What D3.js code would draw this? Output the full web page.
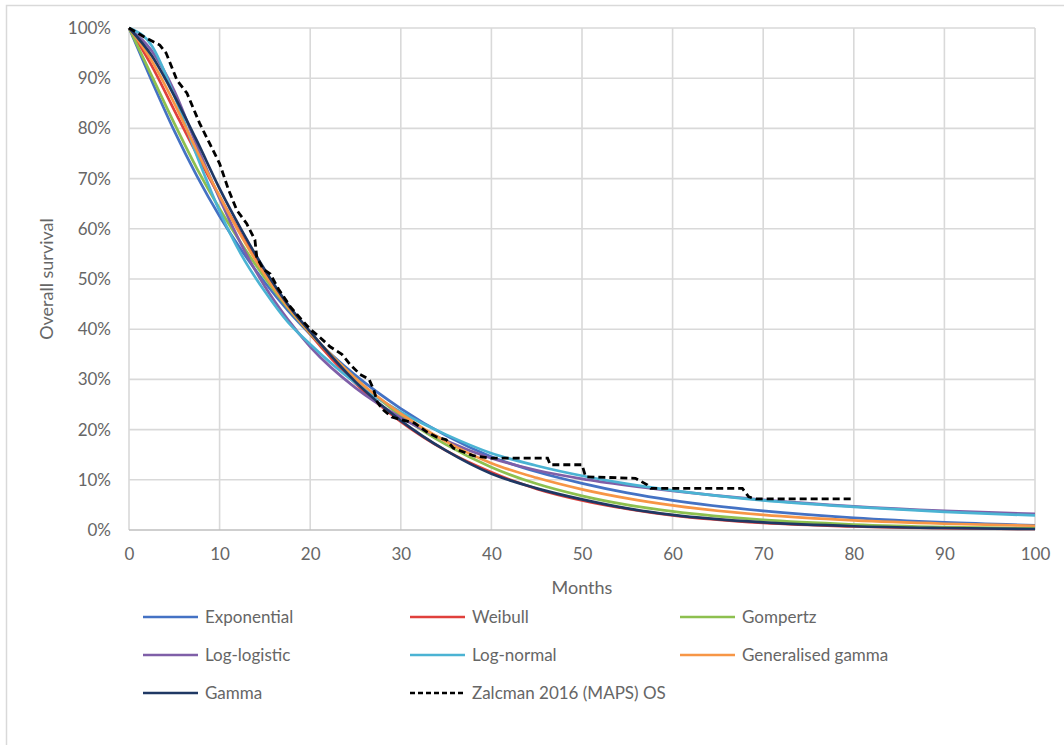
<!DOCTYPE html>
<html>
<head>
<meta charset="utf-8">
<script src="https://cdn.jsdelivr.net/npm/d3@7/dist/d3.min.js"></script>
<style>
  html,body{margin:0;padding:0;background:#fff;}
  svg{display:block;}
  text{font-family:Lato,"Open Sans",sans-serif;fill:#666;}
</style>
</head>
<body>
<svg id="chart" width="1064" height="745"></svg>
<script>
// ---- data ----
const months = [0, 2.5, 5, 7.5, 10, 12.5, 15, 17.5, 20, 25, 30, 35, 40, 45, 50, 55, 60, 70, 80, 90, 100];
const exponential    = [100, 89.5, 79.5, 70.5, 62.5, 55.5, 49.3, 43.8, 39.0, 30.8, 24.2, 18.8, 14.6, 11.6, 9.3, 7.4, 5.9, 3.8, 2.4, 1.5, 0.95];
const weibull        = [100, 92.5, 83.6, 74.8, 66.4, 58.5, 51.3, 44.8, 39.0, 29.2, 21.6, 15.8, 11.5, 8.2, 5.9, 4.2, 2.9, 1.4, 0.7, 0.35, 0.2];
const gompertz       = [100, 90.5, 81.0, 72.0, 64.0, 56.8, 50.2, 44.3, 39.2, 30.2, 22.8, 17.0, 12.5, 9.2, 6.8, 5.0, 3.7, 2.0, 1.1, 0.6, 0.35];
const logLogistic    = [100, 95.5, 87.5, 76.5, 66.0, 56.5, 48.5, 42.0, 36.5, 28.3, 22.4, 17.8, 14.3, 11.9, 10.2, 8.9, 7.8, 6.0, 4.7, 3.8, 3.2];
const logNormal      = [100, 96.5, 86.5, 74.5, 63.5, 54.5, 47.5, 41.5, 37.0, 29.3, 23.5, 19.0, 15.3, 12.8, 10.8, 9.2, 7.9, 5.9, 4.6, 3.6, 2.9];
const genGamma       = [100, 93.5, 85.0, 75.5, 66.5, 58.2, 50.8, 44.5, 39.3, 30.2, 23.2, 17.6, 13.3, 10.4, 8.1, 6.3, 4.9, 3.0, 1.9, 1.25, 0.85];
const gamma          = [100, 94.5, 86.5, 77.5, 68.0, 59.5, 51.8, 45.0, 39.5, 29.5, 21.8, 15.8, 11.2, 8.3, 6.1, 4.3, 3.0, 1.5, 0.75, 0.4, 0.2];

const kmMonths = [0, 1.6, 3.4, 4.1, 5.3, 6.4, 7.8, 8.9, 10, 11, 11.9, 13, 13.9, 14.1, 14.8, 15.6, 16.5, 17.8, 19, 20, 21, 22.2, 23.5, 24.4, 25.5, 26.5, 27, 27.4, 28, 29, 30, 31.5, 32.9, 34, 35, 35.8, 37, 38, 40, 46.2, 46.5, 50, 50.4, 55.9, 57.2, 57.6, 67.7, 68.4, 69.2, 79.7];
const kmSurv   = [100, 98.3, 96.6, 95, 89.6, 87, 81, 77, 73, 67.7, 63.7, 61, 57.8, 54.4, 52, 51, 48, 44.5, 42, 40, 38.5, 36.5, 35, 33, 31, 30, 28, 25.5, 24, 22.5, 22, 21.3, 19.5, 18.5, 18, 16.3, 15.5, 14.8, 14.3, 14.3, 13, 13, 10.6, 10.3, 9, 8.3, 8.3, 6.6, 6.2, 6.2];

const xTicks = [0, 10, 20, 30, 40, 50, 60, 70, 80, 90, 100];
const yTicks = [0, 10, 20, 30, 40, 50, 60, 70, 80, 90, 100];

const seriesNames  = ["Exponential", "Weibull", "Gompertz", "Log-logistic", "Log-normal", "Generalised gamma", "Gamma"];
const seriesValues = [exponential, weibull, gompertz, logLogistic, logNormal, genGamma, gamma];
const seriesColors = ["#4472C4", "#E0403C", "#8DC04F", "#7F5FA8", "#4BB3D3", "#F79646", "#1F3864"];
const kmName = "Zalcman 2016 (MAPS) OS";

// ---- drawing ----
(function () {
const svg = d3.select("#chart");
svg.append("rect").attr("width", 1064).attr("height", 745).attr("fill", "#fff");
// outer frame (cropped at right/bottom)
svg.append("rect").attr("x", 6.5).attr("y", 5.5).attr("width", 1070).attr("height", 760)
  .attr("fill", "none").attr("stroke", "#D9D9D9").attr("stroke-width", 1.5);

const pLeft = 129, pRight = 1035, pTop = 28, pBottom = 530;
const x = d3.scaleLinear().domain([0, 100]).range([pLeft, pRight]);
const y = d3.scaleLinear().domain([0, 100]).range([pBottom, pTop]);

// grid
const grid = svg.append("g");
grid.selectAll("line.v").data(xTicks).join("line").attr("class", "v")
  .attr("x1", d => x(d)).attr("x2", d => x(d)).attr("y1", pTop).attr("y2", pBottom)
  .attr("stroke", "#D9D9D9").attr("stroke-width", 1.6);
grid.selectAll("line.h").data(yTicks).join("line").attr("class", "h")
  .attr("x1", pLeft).attr("x2", pRight).attr("y1", d => y(d)).attr("y2", d => y(d))
  .attr("stroke", d => d === 0 ? "#BFBFBF" : "#D9D9D9").attr("stroke-width", 1.6);

// axes (labels only)
const xAxis = d3.axisBottom(x).tickValues(xTicks).tickSize(0).tickPadding(18);
const gx = svg.append("g").attr("transform", `translate(0,${pBottom})`).call(xAxis);
gx.select(".domain").remove();
gx.selectAll("text").style("font-size", "17px").style("fill", "#666").attr("font-family", "Lato");

const yAxis = d3.axisLeft(y).tickValues(yTicks).tickSize(0).tickPadding(18).tickFormat(d => d + "%");
const gy = svg.append("g").attr("transform", `translate(${pLeft},0)`).call(yAxis);
gy.select(".domain").remove();
gy.selectAll("text").style("font-size", "17px").style("fill", "#666").attr("font-family", "Lato");

svg.append("text").attr("x", (pLeft + pRight) / 2).attr("y", 594).attr("text-anchor", "middle")
  .style("font-size", "18px").text("Months");
svg.append("text").attr("transform", `translate(53,${(pTop + pBottom) / 2}) rotate(-90)`)
  .attr("text-anchor", "middle").style("font-size", "18px").text("Overall survival");

// model curves
const line = d3.line().x(d => x(d[0])).y(d => y(d[1])).curve(d3.curveMonotoneX);
const plot = svg.append("g");
seriesValues.forEach((vals, i) => {
  plot.append("path").datum(months.map((m, j) => [m, vals[j]]))
    .attr("fill", "none").attr("stroke", seriesColors[i]).attr("stroke-width", 2.7)
    .attr("d", line);
});

// KM dashed
const kmLine = d3.line().x(d => x(d[0])).y(d => y(d[1]));
plot.append("path").datum(kmMonths.map((m, j) => [m, kmSurv[j]]))
  .attr("fill", "none").attr("stroke", "#000").attr("stroke-width", 2.8)
  .attr("stroke-dasharray", "7,4").attr("d", kmLine);

// legend
const legendItems = seriesNames.map((n, i) => ({name: n, color: seriesColors[i], dash: null}))
  .concat([{name: kmName, color: "#000", dash: "5,3"}]);
const colX = [143, 410, 680], rowY = [617, 655, 693];
const lg = svg.append("g");
legendItems.forEach((it, i) => {
  const cx = colX[i % 3], cy = rowY[Math.floor(i / 3)];
  lg.append("line").attr("x1", cx).attr("x2", cx + 55).attr("y1", cy).attr("y2", cy)
    .attr("stroke", it.color).attr("stroke-width", 2.7).attr("stroke-dasharray", it.dash);
  lg.append("text").attr("x", cx + 62).attr("y", cy).attr("dy", "0.35em")
    .style("font-size", "17px").text(it.name);
});
})();
</script>
</body>
</html>
